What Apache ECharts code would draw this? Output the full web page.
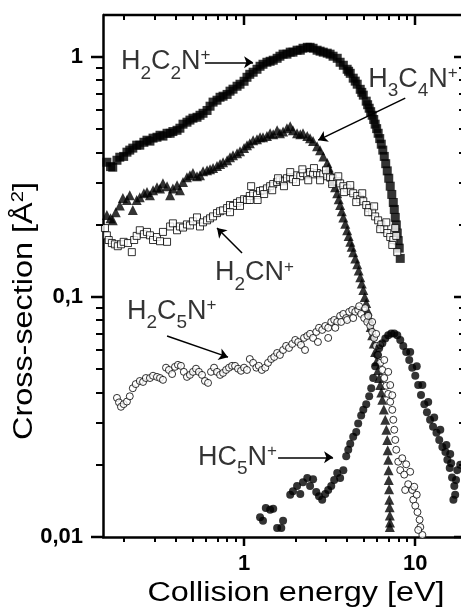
<!DOCTYPE html>
<html>
<head>
<meta charset="utf-8">
<script src="https://cdn.jsdelivr.net/npm/echarts@6/dist/echarts.min.js"></script>
<style>
html, body { margin: 0; padding: 0; background: #fff; }
#chart { width: 461px; height: 613px; }
</style>
</head>
<body>
<div id="chart"></div>
<script>
const FONT = "'Liberation Sans', Arial, sans-serif"

// axis ranges and ticks
const xRange = [0.15, 19]
const yRange = [0.01, 1.5]
const xMajor = [1, 10]
const xMinor = [0.2, 0.3, 0.4, 0.5, 0.6, 0.7, 0.8, 0.9, 2, 3, 4, 5, 6, 7, 8, 9]
const yMajor = [0.01, 0.1, 1]
const yMinor = [0.02, 0.03, 0.04, 0.05, 0.06, 0.07, 0.08, 0.09, 0.2, 0.3, 0.4, 0.5, 0.6, 0.7, 0.8, 0.9]

// H2C2N+ (filled squares)
const h2c2n = [
  [0.158, 0.365], [0.166, 0.35], [0.171, 0.348], [0.181, 0.372], [0.188, 0.383], [0.198, 0.386], [0.207, 0.402],
  [0.215, 0.41], [0.224, 0.418], [0.236, 0.43], [0.246, 0.43], [0.26, 0.442], [0.271, 0.451], [0.282, 0.447],
  [0.294, 0.46], [0.31, 0.464], [0.323, 0.473], [0.336, 0.469], [0.355, 0.482], [0.37, 0.482], [0.384, 0.49],
  [0.406, 0.496], [0.422, 0.506], [0.44, 0.526], [0.464, 0.536], [0.483, 0.547], [0.503, 0.557], [0.531, 0.562],
  [0.553, 0.573], [0.576, 0.584], [0.608, 0.6], [0.633, 0.625], [0.659, 0.65], [0.695, 0.662], [0.724, 0.681],
  [0.754, 0.688], [0.796, 0.7], [0.828, 0.722], [0.862, 0.736], [0.91, 0.757], [0.947, 0.772], [1.0, 0.794],
  [1.04, 0.825], [1.08, 0.849], [1.13, 0.866], [1.19, 0.891], [1.24, 0.917], [1.29, 0.935], [1.36, 0.953],
  [1.42, 0.962], [1.48, 0.972], [1.56, 0.99], [1.62, 1.01], [1.69, 1.03], [1.78, 1.03], [1.86, 1.05], [1.93, 1.05],
  [2.04, 1.07], [2.13, 1.07], [2.21, 1.09], [2.34, 1.1], [2.43, 1.1], [2.53, 1.09], [2.67, 1.07], [2.78, 1.06],
  [2.9, 1.05], [3.06, 1.04], [3.18, 1.03], [3.31, 1.01], [3.5, 0.99], [3.64, 0.953], [3.8, 0.926], [4.0, 0.891],
  [4.08, 0.874], [4.17, 0.857], [4.34, 0.818], [4.46, 0.795], [4.58, 0.772], [4.77, 0.735], [4.87, 0.714],
  [4.97, 0.695], [5.17, 0.656], [5.27, 0.634], [5.38, 0.613], [5.49, 0.593], [5.6, 0.573], [5.72, 0.55],
  [5.83, 0.526], [5.95, 0.504], [6.07, 0.482], [6.2, 0.458], [6.33, 0.434], [6.46, 0.41], [6.59, 0.386],
  [6.72, 0.36], [6.86, 0.336], [7.0, 0.313], [7.14, 0.29], [7.29, 0.268], [7.44, 0.248], [7.54, 0.232],
  [7.64, 0.215], [7.75, 0.2], [7.85, 0.185], [7.95, 0.172], [8.06, 0.16], [8.17, 0.145]
]

// H3C4N+ (filled triangles)
const h3c4n = [
  [0.158, 0.22], [0.166, 0.213], [0.171, 0.209], [0.178, 0.226], [0.188, 0.241], [0.196, 0.259], [0.207, 0.254],
  [0.215, 0.266], [0.224, 0.231], [0.236, 0.254], [0.246, 0.261], [0.26, 0.271], [0.271, 0.274], [0.282, 0.266],
  [0.294, 0.279], [0.31, 0.287], [0.323, 0.284], [0.336, 0.298], [0.355, 0.29], [0.37, 0.266], [0.384, 0.284],
  [0.406, 0.293], [0.422, 0.279], [0.44, 0.302], [0.464, 0.316], [0.483, 0.322], [0.503, 0.329], [0.531, 0.319],
  [0.553, 0.322], [0.576, 0.335], [0.608, 0.338], [0.633, 0.341], [0.659, 0.345], [0.695, 0.352], [0.724, 0.359],
  [0.754, 0.365], [0.796, 0.372], [0.828, 0.383], [0.862, 0.39], [0.91, 0.398], [0.947, 0.406], [1.0, 0.418],
  [1.04, 0.43], [1.08, 0.438], [1.13, 0.451], [1.19, 0.455], [1.24, 0.464], [1.29, 0.464], [1.36, 0.469],
  [1.42, 0.482], [1.48, 0.478], [1.56, 0.496], [1.62, 0.482], [1.69, 0.49], [1.78, 0.506], [1.86, 0.516],
  [1.93, 0.496], [2.04, 0.482], [2.13, 0.478], [2.21, 0.482], [2.34, 0.469], [2.43, 0.46], [2.53, 0.447],
  [2.67, 0.426], [2.78, 0.41], [2.9, 0.386], [3.06, 0.362], [3.12, 0.347], [3.18, 0.332], [3.24, 0.318],
  [3.31, 0.304], [3.4, 0.287], [3.5, 0.271], [3.57, 0.256], [3.64, 0.242], [3.72, 0.228], [3.8, 0.215],
  [3.9, 0.202], [4.0, 0.19], [4.08, 0.18], [4.17, 0.17], [4.25, 0.162], [4.34, 0.154], [4.46, 0.145],
  [4.58, 0.137], [4.67, 0.129], [4.77, 0.121], [4.87, 0.114], [4.97, 0.107], [5.07, 0.1], [5.17, 0.0945],
  [5.27, 0.088], [5.38, 0.0818], [5.49, 0.075], [5.6, 0.0694], [5.72, 0.064], [5.83, 0.0591], [5.95, 0.054],
  [6.07, 0.0497], [6.15, 0.046], [6.24, 0.043], [6.33, 0.04], [6.42, 0.0373], [6.55, 0.034], [6.68, 0.0308],
  [6.78, 0.028], [6.86, 0.0254], [6.9, 0.023], [6.95, 0.021], [6.98, 0.019], [7.0, 0.0173], [7.03, 0.0158],
  [7.05, 0.0143], [7.08, 0.0133], [7.1, 0.0123], [7.12, 0.0115], [7.1, 0.011]
]

// H2CN+ (open squares)
const h2cn = [
  [0.154, 0.194], [0.158, 0.181], [0.162, 0.173], [0.169, 0.168], [0.176, 0.166], [0.183, 0.163], [0.191, 0.166],
  [0.198, 0.17], [0.21, 0.168], [0.221, 0.154], [0.228, 0.173], [0.236, 0.18], [0.246, 0.19], [0.26, 0.183],
  [0.271, 0.187], [0.282, 0.181], [0.294, 0.173], [0.31, 0.178], [0.323, 0.171], [0.336, 0.187], [0.355, 0.17],
  [0.37, 0.197], [0.384, 0.203], [0.406, 0.19], [0.422, 0.197], [0.44, 0.195], [0.464, 0.201], [0.483, 0.199],
  [0.503, 0.207], [0.531, 0.215], [0.553, 0.197], [0.576, 0.205], [0.608, 0.209], [0.633, 0.213], [0.659, 0.217],
  [0.695, 0.224], [0.724, 0.228], [0.754, 0.23], [0.796, 0.235], [0.828, 0.242], [0.862, 0.24], [0.91, 0.247],
  [0.947, 0.251], [1.0, 0.256], [1.04, 0.254], [1.08, 0.264], [1.13, 0.269], [1.19, 0.266], [1.24, 0.277],
  [1.29, 0.279], [1.36, 0.284], [1.42, 0.29], [1.48, 0.296], [1.56, 0.302], [1.62, 0.307], [1.69, 0.304],
  [1.78, 0.313], [1.86, 0.316], [1.93, 0.31], [2.04, 0.322], [2.13, 0.319], [2.21, 0.329], [2.34, 0.322],
  [2.43, 0.332], [2.53, 0.325], [2.67, 0.329], [2.78, 0.322], [2.9, 0.325], [3.06, 0.319], [3.18, 0.316],
  [3.31, 0.313], [3.5, 0.304], [3.64, 0.298], [3.8, 0.29], [4.0, 0.284], [4.17, 0.277], [4.34, 0.271],
  [4.58, 0.264], [4.77, 0.256], [4.97, 0.251], [5.17, 0.242], [5.38, 0.235], [5.6, 0.226], [5.83, 0.217],
  [6.07, 0.209], [6.33, 0.201], [6.59, 0.192], [6.86, 0.185], [7.14, 0.178], [7.44, 0.173], [7.74, 0.18],
  [0.828, 0.226], [0.947, 0.24], [1.08, 0.254], [1.1, 0.29], [1.2, 0.254], [1.31, 0.269],
  [1.46, 0.279], [1.58, 0.313], [1.71, 0.29], [1.86, 0.332], [2.01, 0.302], [2.19, 0.341], [2.37, 0.307],
  [2.56, 0.345], [2.78, 0.307], [3.01, 0.338], [3.27, 0.296], [3.55, 0.319], [3.84, 0.274], [4.17, 0.293],
  [4.52, 0.249], [4.9, 0.271], [5.31, 0.226], [5.75, 0.239], [6.24, 0.192], [6.77, 0.205], [7.34, 0.165],
  [7.64, 0.194], [7.85, 0.154]
]

// H2C5N+ (open circles)
const h2c5n = [
  [0.181, 0.038], [0.186, 0.0364], [0.191, 0.0349], [0.198, 0.0358], [0.207, 0.0367], [0.215, 0.0386],
  [0.224, 0.0417], [0.233, 0.0434], [0.246, 0.0447], [0.257, 0.0443], [0.267, 0.046], [0.282, 0.046],
  [0.294, 0.047], [0.31, 0.0465], [0.323, 0.046], [0.336, 0.0452], [0.35, 0.0508], [0.364, 0.0497],
  [0.38, 0.0478], [0.395, 0.0512], [0.411, 0.0522], [0.428, 0.0517], [0.445, 0.0488], [0.464, 0.0465],
  [0.483, 0.0474], [0.503, 0.0488], [0.524, 0.0503], [0.545, 0.0488], [0.568, 0.0474], [0.591, 0.0447],
  [0.616, 0.0439], [0.641, 0.0488], [0.668, 0.0508], [0.695, 0.0488], [0.724, 0.0474], [0.754, 0.0483],
  [0.785, 0.0497], [0.817, 0.0508], [0.851, 0.0517], [0.886, 0.0517], [0.922, 0.0503], [0.96, 0.0493],
  [1.0, 0.0508], [1.04, 0.0497], [1.08, 0.0552], [1.13, 0.0532], [1.18, 0.0508], [1.22, 0.0517], [1.27, 0.0497],
  [1.33, 0.0508], [1.38, 0.0532], [1.44, 0.0552], [1.5, 0.0563], [1.56, 0.0585], [1.62, 0.0574], [1.69, 0.0602],
  [1.76, 0.0626], [1.83, 0.0614], [1.91, 0.0638], [1.99, 0.0663], [2.07, 0.065], [2.15, 0.0632], [2.24, 0.0676],
  [2.34, 0.0689], [2.43, 0.0703], [2.53, 0.0676], [2.64, 0.0716], [2.74, 0.0745], [2.86, 0.073], [2.98, 0.0758],
  [3.1, 0.0745], [3.23, 0.0788], [3.36, 0.0803], [3.5, 0.0788], [3.64, 0.0835], [3.8, 0.0851], [3.95, 0.0818],
  [4.11, 0.0868], [4.28, 0.0884], [4.46, 0.0868], [4.64, 0.0884], [4.83, 0.0851], [5.03, 0.0818], [5.24, 0.0788],
  [5.46, 0.0758], [5.6, 0.0716], [5.75, 0.0676], [5.91, 0.0626], [6.07, 0.0574], [6.24, 0.0532], [6.42, 0.0497],
  [6.59, 0.046], [6.77, 0.0427], [6.95, 0.0395], [7.14, 0.0366], [7.34, 0.0339], [7.44, 0.0308], [7.54, 0.028],
  [7.64, 0.0254], [7.74, 0.0231], [7.95, 0.0206], [8.17, 0.019], [8.39, 0.0213], [8.62, 0.0182], [8.85, 0.0201],
  [9.09, 0.0166], [9.34, 0.0187], [9.6, 0.0157], [9.73, 0.0143], [10.0, 0.0135], [10.3, 0.0127], [10.6, 0.0118],
  [10.7, 0.011], [11.0, 0.0102], [10.4, 0.0107], [10.2, 0.015], [9.86, 0.0162], [8.73, 0.0157],
  [3.41, 0.0745], [3.69, 0.0788], [4.0, 0.0803], [4.34, 0.0818], [4.7, 0.0917], [5.1, 0.09], [5.31, 0.0835],
  [5.6, 0.0788], [5.91, 0.0703], [6.24, 0.0632], [6.59, 0.0547], [6.95, 0.0488], [7.14, 0.043], [7.34, 0.039],
  [2.27, 0.0602], [2.7, 0.065], [3.1, 0.0676]
]

// HC5N+ (filled circles)
const hc5n = [
  [1.24, 0.0121], [1.29, 0.0117], [1.34, 0.0132], [1.42, 0.013], [1.48, 0.0131], [1.56, 0.0109], [1.65, 0.0109],
  [1.69, 0.0117], [1.86, 0.015], [1.93, 0.0155], [2.04, 0.0163], [2.13, 0.0151], [2.21, 0.0169], [2.34, 0.0176],
  [2.43, 0.0163], [2.53, 0.0174], [2.64, 0.0154], [2.74, 0.0148], [2.86, 0.0143], [2.98, 0.0151], [3.1, 0.0157],
  [3.23, 0.0163], [3.36, 0.0173], [3.5, 0.0185], [3.64, 0.0176], [3.8, 0.019], [3.95, 0.0217], [4.06, 0.0231],
  [4.17, 0.0245], [4.34, 0.0262], [4.52, 0.0274], [4.64, 0.0297], [4.83, 0.0321], [4.97, 0.0339], [5.17, 0.0358],
  [5.38, 0.0386], [5.53, 0.0417], [5.68, 0.046], [5.83, 0.0515], [6.0, 0.0574], [6.15, 0.0612], [6.42, 0.0642],
  [6.68, 0.0673], [6.95, 0.0694], [7.24, 0.0706], [7.54, 0.0706], [7.85, 0.0694], [8.17, 0.0663], [8.51, 0.0626],
  [8.85, 0.0591], [9.22, 0.0547], [9.6, 0.0508], [10.0, 0.047], [10.4, 0.043], [10.8, 0.0391], [11.3, 0.0358],
  [11.7, 0.0331], [12.2, 0.0308], [12.7, 0.0288], [13.3, 0.0272], [13.8, 0.0254], [14.4, 0.0237], [15.0, 0.0226],
  [15.4, 0.021], [15.9, 0.0194], [16.2, 0.0203], [16.4, 0.0177], [16.9, 0.0163], [17.1, 0.015], [16.7, 0.0143],
  [17.6, 0.019], [18.3, 0.02],
  [9.34, 0.0591], [10.2, 0.0515], [11.0, 0.043], [11.9, 0.0365], [12.9, 0.0315], [14.0, 0.028], [15.2, 0.0242],
  [16.0, 0.0222], [17.3, 0.0173]
]

// annotation labels: [x, y, rich text]
const labels = [
  [0.191, 0.962, '{m|H}{s|2}{m|C}{s|2}{m|N}{p|+}'],
  [5.31, 0.81, '{m|H}{s|3}{m|C}{s|4}{m|N}{p|+}'],
  [0.677, 0.126, '{m|H}{s|2}{m|CN}{p|+}'],
  [0.207, 0.0874, '{m|H}{s|2}{m|C}{s|5}{m|N}{p|+}'],
  [0.538, 0.0215, '{m|HC}{s|5}{m|N}{p|+}']
]
// arrows: [x1, y1, x2, y2]
const arrows = [
  [0.591, 0.953, 1.129, 0.953],
  [8.74, 0.675, 2.71, 0.451],
  [0.973, 0.1526, 0.695, 0.194],
  [0.355, 0.0688, 0.806, 0.0562],
  [1.58, 0.0215, 3.31, 0.0215]
]

function logAxis(range, position, labelValues) {
  return {
    type: 'log',
    logBase: 10,
    min: range[0],
    max: range[1],
    position: position,
    axisLine: { show: true, onZero: false, lineStyle: { color: '#000', width: 2.5 } },
    axisTick: { show: false },
    minorTick: { show: false },
    splitLine: { show: false },
    axisLabel: {
      customValues: labelValues,
      margin: position === 'left' ? 20 : 16,
      color: '#000',
      fontFamily: FONT,
      fontWeight: 'bold',
      fontSize: 22,
      formatter: v => String(+(+v).toPrecision(3)).replace('.', ',')
    }
  }
}

const rich = {
  m: { fontFamily: FONT, fontSize: 27, color: '#000' },
  s: { fontFamily: FONT, fontSize: 19, color: '#000', padding: [24, 0, 0, 0] },
  p: { fontFamily: FONT, fontSize: 17, color: '#000', padding: [0, 0, 12, 0] }
}

const option = {
  animation: false,
  backgroundColor: '#fff',
  grid: { left: 103, top: 15, width: 360, height: 522, containLabel: false, outerBoundsMode: 'none' },
  xAxis: logAxis(xRange, 'bottom', xMajor),
  yAxis: logAxis(yRange, 'left', yMajor),
  series: [
    { type: 'scatter', data: h2c2n, symbol: 'rect', symbolSize: 9, itemStyle: { color: '#000' }, silent: true },
    { type: 'scatter', data: h3c4n, symbol: 'triangle', symbolSize: 10, itemStyle: { color: '#000' }, silent: true },
    {
      type: 'scatter', data: h2cn, symbol: 'rect', symbolSize: 7, silent: true,
      itemStyle: { color: '#fff', borderColor: '#000', borderWidth: 1 }
    },
    {
      type: 'scatter', data: h2c5n, symbol: 'circle', symbolSize: 7, silent: true,
      itemStyle: { color: '#fff', borderColor: '#000', borderWidth: 1 }
    },
    { type: 'scatter', data: hc5n, symbol: 'circle', symbolSize: 8, itemStyle: { color: '#000' }, silent: true },
    {
      type: 'scatter',
      silent: true,
      symbolSize: 0,
      data: labels.map(l => ({ value: [l[0], l[1]], label: { formatter: l[2] } })),
      label: { show: true, position: 'right', distance: 0, rich: rich },
      markLine: {
        silent: true,
        symbol: ['none', 'arrow'],
        symbolSize: 9,
        label: { show: false },
        lineStyle: { color: '#000', width: 1.5, type: 'solid' },
        data: arrows.map(a => [{ coord: [a[0], a[1]] }, { coord: [a[2], a[3]] }])
      }
    }
  ]
}

const chart = echarts.init(document.getElementById('chart'), null, { renderer: 'canvas' })
chart.setOption(option)

// frame, tick marks and titles, placed through the grid's own log scales
const toPx = (x, y) => chart.convertToPixel({ xAxisIndex: 0, yAxisIndex: 0 }, [x, y])
const marks = []
function line(x1, y1, x2, y2, w) {
  marks.push({
    type: 'line', silent: true, z: 10,
    shape: { x1: x1, y1: y1, x2: x2, y2: y2 },
    style: { stroke: '#000', lineWidth: w }
  })
}
function addTicks(values, side, len, w) {
  values.forEach(v => {
    if (side === 'bottom') { const p = toPx(v, yRange[0]); const x = Math.round(p[0]); line(x, p[1], x, p[1] + len, w) }
    else if (side === 'top') { const p = toPx(v, yRange[1]); const x = Math.round(p[0]); line(x, p[1], x, p[1] + len, w) }
    else if (side === 'left') { const p = toPx(xRange[0], v); const y = Math.round(p[1]); line(p[0], y, p[0] - len, y, w) }
    else { const p = toPx(xRange[1], v); const y = Math.round(p[1]); line(p[0], y, p[0] - len, y, w) }
  })
}
const tl = toPx(xRange[0], yRange[1])
const br = toPx(xRange[1], yRange[0])
line(tl[0], tl[1], br[0], tl[1], 2.5)
line(br[0], tl[1], br[0], br[1], 2.5)
addTicks(xMajor, 'bottom', 9, 2.5)
addTicks(xMinor, 'bottom', 5, 2)
addTicks(xMajor, 'top', 10, 2.5)
addTicks(xMinor, 'top', 5, 2)
addTicks(yMajor, 'left', 12, 2.5)
addTicks(yMinor, 'left', 7, 2)
addTicks(yMajor, 'right', 9, 2.5)
addTicks(yMinor, 'right', 4, 2)

const titles = [
  {
    type: 'text', x: 296, y: 594, scaleX: 1.2, silent: true,
    style: { text: 'Collision energy [eV]', fontFamily: FONT, fontSize: 27, fill: '#000', align: 'center', verticalAlign: 'middle' }
  },
  {
    type: 'text', x: 25, y: 311, rotation: Math.PI / 2, scaleX: 1.2, silent: true,
    style: {
      text: 'Cross-section [Å{s|2}]', fontFamily: FONT, fontSize: 27, fill: '#000', align: 'center', verticalAlign: 'middle',
      rich: { s: { fontFamily: FONT, fontSize: 17, fill: '#000', padding: [0, 0, 14, 0] } }
    }
  }
]
chart.setOption({ graphic: titles.concat(marks) })
</script>
</body>
</html>
